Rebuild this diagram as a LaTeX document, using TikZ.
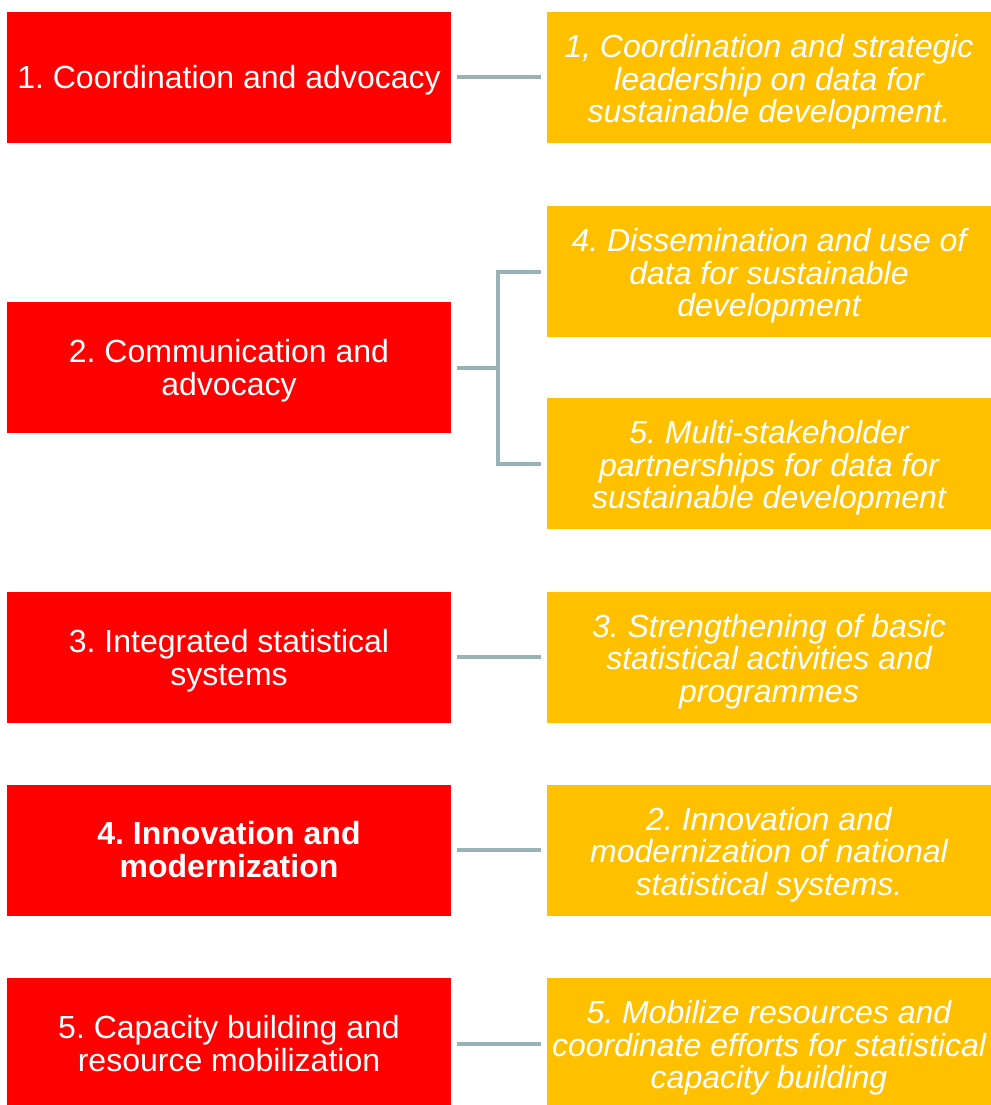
\documentclass[tikz,border=0pt]{standalone}
\usepackage{fontspec}
\setmainfont{Liberation Sans}
\usepackage{tikz}
\frenchspacing

\definecolor{boxred}{HTML}{FF0000}
\definecolor{boxyellow}{HTML}{FFC000}
\definecolor{linkgray}{HTML}{98B2B6}

% pushes the lines of a box a little down
\newcommand{\topgap}[1]{\rule{0pt}{#1pt}}

\begin{document}
\begin{tikzpicture}[x=1pt, y=-1pt, shorten >=6pt, shorten <=6pt,
		red_style/.style={rectangle,fill=boxred,text=white,minimum width=444pt,minimum height=131pt,inner sep=0pt,align=center,font=\fontsize{32}{33}\selectfont},
		yellow_style/.style={red_style,fill=boxyellow,font=\fontsize{32}{32.5}\selectfont\itshape},
		edge_style/.style={draw=linkgray,line width=4pt}]
		
		\useasboundingbox (0,0) rectangle (990,1105);
		
		\node[red_style] (r1) at (229,77.5)  {\topgap{29}1. Coordination and advocacy};
		\node[red_style] (r2) at (229,367.5)  {\topgap{30}2. Communication and\\advocacy};
		\node[red_style] (r3) at (229,657)  {\topgap{31}3. Integrated statistical\\systems};
		\node[red_style] (r4) at (229,850)  {\bfseries 4. Innovation and\\\bfseries modernization};
		\node[red_style] (r5) at (229,1043.5)  {5. Capacity building and\\resource mobilization};
		
		\node[yellow_style] (y1) at (769,77.5)  {\topgap{32}1, Coordination and strategic\\leadership on data for\\sustainable development.};
		\node[yellow_style] (y2) at (769,271.5)  {\topgap{32}4. Dissemination and use of\\data for sustainable\\development};
		\node[yellow_style] (y3) at (769,463.5)  {\topgap{32}5. Multi-stakeholder\\partnerships for data for\\sustainable development};
		\node[yellow_style] (y4) at (769,657)  {\topgap{32}3. Strengthening of basic\\statistical activities and\\programmes};
		\node[yellow_style] (y5) at (769,850)  {\topgap{32}2. Innovation and\\modernization of national\\statistical systems.};
		\node[yellow_style] (y6) at (769,1043.5)  {\topgap{32}5. Mobilize resources and\\coordinate efforts for statistical\\capacity building};
		
		\draw[edge_style]  (r1) -- (y1);
		\draw[edge_style, shorten >=0pt]  (r2.east) -- ++(47,0) coordinate (fork);
		\draw[edge_style, shorten <=-2pt]  (fork) |- (y2.west);
		\draw[edge_style, shorten <=-2pt]  (fork) |- (y3.west);
		\draw[edge_style]  (r3) -- (y4);
		\draw[edge_style]  (r4) -- (y5);
		\draw[edge_style]  (r5) -- (y6);
		
\end{tikzpicture}
\end{document}
